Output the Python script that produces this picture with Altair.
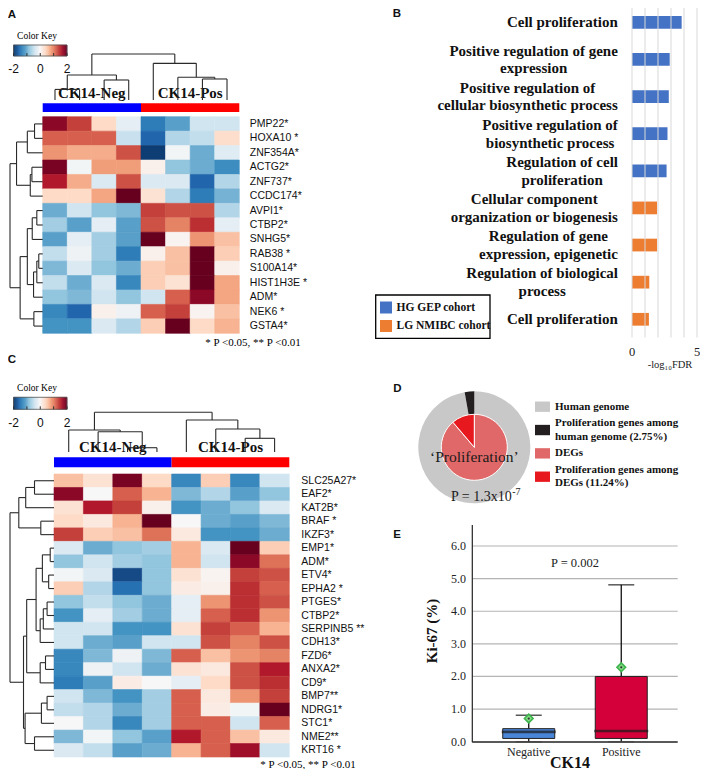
import altair as alt
import numpy as np
import pandas as pd

# ------------------------------------------------------------------ data
rdbu = ["#053061", "#2166ac", "#4393c3", "#92c5de", "#d1e5f0", "#f7f7f7",
        "#fddbc7", "#f4a582", "#d6604d", "#b2182b", "#67001f"]
key_ticks = [-2, -1, 0, 1, 2]
key_labels = [-2, 0, 2]
group_names = ["CK14-Neg", "CK14-Pos"]
group_colors = ["#0000ff", "#ff0000"]

a_genes = ["PMP22*", "HOXA10 *", "ZNF354A*", "ACTG2*", "ZNF737*", "CCDC174*",
           "AVPI1*", "CTBP2*", "SNHG5*", "RAB38 *", "S100A14*", "HIST1H3E *",
           "ADM*", "NEK6 *", "GSTA4*"]
a_values = [
    [1.8, 1.4, 0.4, -0.2, -1.4, -1.1, -0.4, -0.4],
    [1.2, 1.2, 1.2, -0.45, -1.6, -0.6, -0.5, 0.35],
    [0.9, 0.75, 0.75, 1.3, -1.9, -0.05, -1.0, -0.25],
    [1.9, -0.05, 0.85, 0.85, 0.1, -0.8, -1.0, -1.25],
    [1.6, 0.75, -0.3, 1.3, -0.3, -0.3, -1.6, -0.6],
    [0.4, 0.4, 0.8, 2.0, 0.3, -0.6, -1.4, -0.95],
    [-1.0, -0.4, -0.8, -0.9, 1.4, 1.3, 1.3, -0.6],
    [-0.7, -1.1, -0.2, -1.1, 1.3, 1.0, 1.5, -0.2],
    [-1.1, -0.2, -0.7, -1.1, 2.0, 0.05, 0.9, 0.6],
    [-0.5, -0.1, -0.7, -1.4, 0.1, 0.6, 2.1, 0.5],
    [-0.9, -0.3, -0.8, -1.0, 0.5, 0.6, 2.1, 0.1],
    [-0.5, -1.0, -0.3, -1.3, 0.5, 0.3, 2.0, 0.8],
    [-0.8, -0.9, -0.4, -0.8, -0.4, 1.2, 1.8, 0.8],
    [-1.3, -1.6, 0.1, -0.1, 1.2, 1.4, 0.05, 0.6],
    [-1.2, -1.2, -0.3, -0.6, 0.5, 2.1, 0.4, 0.7],
]
# dendrogram merges: (child a, child b, height); node ids >= n refer to earlier merges
a_col_merges = [(0, 1, 2.3), (2, 3, 4.35), (8, 9, 5.43), (6, 7, 4.57),
                (5, 11, 4.93), (4, 12, 7.97), (10, 13, 10.0)]
a_row_merges = [(0, 1, 2.5), (15, 2, 4.7), (3, 4, 3.3), (17, 5, 3.8), (16, 18, 8.0),
                (6, 7, 1.8), (20, 8, 3.2), (9, 10, 1.2), (22, 11, 1.8), (23, 12, 2.8),
                (21, 24, 4.7), (13, 14, 2.7), (25, 26, 6.9), (19, 27, 10.0)]

c_genes = ["SLC25A27*", "EAF2*", "KAT2B*", "BRAF *", "IKZF3*", "EMP1*", "ADM*", "ETV4*",
           "EPHA2 *", "PTGES*", "CTBP2*", "SERPINB5 **", "CDH13*", "FZD6*", "ANXA2*", "CD9*",
           "BMP7**", "NDRG1*", "STC1*", "NME2**", "KRT16 *"]
c_values = [
    [0.6, 0.3, 1.9, 0.4, -1.3, 0.5, -1.3, -0.4],
    [1.8, 0.0, 1.2, 0.7, -0.9, -0.6, -1.1, -0.8],
    [0.3, 1.6, 1.4, 0.1, -1.2, -1.0, -0.8, -0.3],
    [0.4, 0.2, 0.7, 2.0, 0.0, -1.0, -1.1, -0.9],
    [1.4, 0.5, 0.6, 1.1, 0.2, -1.2, -1.2, -1.0],
    [-0.3, -1.0, -0.8, -0.7, 0.7, -0.3, 2.1, 0.5],
    [-0.8, -0.4, -0.7, -0.8, 0.7, -0.4, 1.8, 1.1],
    [-0.05, -0.3, -1.8, -0.8, 0.3, 0.05, 1.4, 1.3],
    [0.5, -0.6, -1.5, -0.8, 0.15, 0.1, 1.5, 1.2],
    [-0.8, -0.5, -0.8, -1.0, -0.2, 0.9, 1.5, 1.3],
    [-1.2, -0.2, -0.7, -1.0, -0.2, 1.2, 1.5, 0.9],
    [-0.4, -0.4, -1.2, -1.2, 0.3, 1.4, 1.2, 0.7],
    [-0.4, -1.0, -1.1, -0.4, -0.4, 1.3, 1.0, 1.3],
    [-1.3, -0.9, -0.1, -0.9, 1.2, 0.6, 0.9, 1.0],
    [-1.3, -0.1, -0.4, -1.0, 0.3, 0.2, 1.3, 1.6],
    [-1.4, -1.1, 0.15, 0.0, -0.2, 0.4, 1.3, 1.5],
    [-0.4, -0.9, -1.2, -0.7, 1.2, 0.2, 0.9, 1.4],
    [-0.5, -0.6, -1.0, -0.7, 1.2, 0.15, -0.05, 2.2],
    [0.0, -0.6, -1.3, -0.7, 1.2, 1.2, -0.4, 1.2],
    [-0.9, -0.05, -0.8, -1.1, 1.6, 1.2, 0.6, 0.2],
    [-0.3, -0.5, -1.1, -1.0, 0.7, 1.2, 1.7, -0.4],
]
c_col_merges = [(2, 3, 1.08), (1, 8, 5.1), (0, 9, 5.54), (6, 7, 3.45),
                (5, 11, 5.8), (4, 12, 8.06), (10, 13, 10.0)]
c_row_merges = [(0, 1, 4.43), (21, 2, 6.43), (3, 4, 3.0), (22, 23, 8.0),
                (5, 6, 0.86), (7, 8, 1.21), (25, 26, 2.64), (9, 10, 1.57),
                (28, 11, 2.43), (29, 12, 3.14), (27, 30, 4.07), (13, 14, 1.93),
                (32, 15, 3.14), (31, 33, 6.21), (16, 17, 1.57), (35, 18, 2.86),
                (19, 20, 4.43), (36, 37, 6.57), (34, 38, 6.93), (24, 39, 10.0)]
footnote = "* P <0.05, ** P <0.01"

b_terms = ["Cell proliferation",
           "Positive regulation of gene\nexpression",
           "Positive regulation of\ncellular biosynthetic process",
           "Positive regulation of\nbiosynthetic process",
           "Regulation of cell\nproliferation",
           "Cellular component\norganization or biogenesis",
           "Regulation of gene\nexpression, epigenetic",
           "Regulation of biological\nprocess",
           "Cell proliferation"]
b_values = [3.82, 2.9, 2.83, 2.73, 2.66, 1.93, 1.93, 1.33, 1.3]
b_cohort = ["HG GEP cohort"] * 5 + ["LG NMIBC cohort"] * 4
b_cohorts = ["HG GEP cohort", "LG NMIBC cohort"]
b_colors = ["#4472c4", "#ed7d31"]
b_ticks = [0, 5]
b_grid = [0, 1, 2, 3, 4, 5]

d_outer_names = ["Human genome", "Proliferation genes among human genome (2.75%)"]
d_outer_values = [97.25, 2.75]
d_inner_names = ["DEGs", "Proliferation genes among DEGs (11.24%)"]
d_inner_values = [88.76, 11.24]
d_legend = ["Human genome", "Proliferation genes among\nhuman genome (2.75%)",
            "DEGs", "Proliferation genes among\nDEGs (11.24%)"]
d_colors = ["#c8c8c8", "#231f20", "#e06868", "#e8191e"]

e_groups = ["Negative", "Positive"]
e_q1 = [0.1, 0.1]
e_median = [0.3, 0.33]
e_q3 = [0.4, 2.0]
e_low = [0.0, 0.0]
e_high = [0.81, 4.81]
e_mean = [0.71, 2.28]
e_colors = ["#4a86d8", "#d4003a"]
e_ticks = [0, 1, 2, 3, 4, 5, 6]

# ------------------------------------------------------------------ helpers
OFF = 8  # page margin: reference pixel -> chart pixel
W, H = 692, 761


def px(v):
    return v - OFF


SERIF = "Liberation Serif"
SANS = "Liberation Sans"
INK = "#2a2a2a"


def lin(domain, rng):
    return alt.Scale(domain=list(domain), range=[px(r) for r in rng], zero=False, nice=False)


def heat_scale():
    return alt.Scale(domain=[float(v) for v in np.linspace(-2, 2, len(rdbu))], range=rdbu, clamp=True)


def text_at(text, x, y, size, font=SERIF, weight="normal", align="center",
            baseline="middle", color="black", angle=0):
    return alt.Chart(pd.DataFrame({"t": [text]})).mark_text(
        font=font, fontSize=size, fontWeight=weight, align=align, baseline=baseline,
        color=color, angle=angle
    ).encode(x=alt.value(px(x)), y=alt.value(px(y)), text="t:N")


def dendro_segments(merges, n):
    pos = {i: i + 0.5 for i in range(n)}
    hgt = {i: 0.0 for i in range(n)}
    rows = []
    for k, (a, b, h) in enumerate(merges):
        rows.append(dict(p1=pos[a], p2=pos[a], h1=hgt[a], h2=h))
        rows.append(dict(p1=pos[b], p2=pos[b], h1=hgt[b], h2=h))
        rows.append(dict(p1=pos[a], p2=pos[b], h1=h, h2=h))
        pos[n + k] = (pos[a] + pos[b]) / 2
        hgt[n + k] = h
    return pd.DataFrame(rows)


TIMES_BOLD = {" ": 250, ",": 250, "C": 722, "P": 611, "R": 722,
              "a": 500, "b": 556, "c": 444, "d": 556, "e": 444, "f": 333, "g": 500,
              "h": 556, "i": 278, "j": 333, "k": 556, "l": 278, "m": 833, "n": 556,
              "o": 500, "p": 556, "q": 556, "r": 444, "s": 389, "t": 333, "u": 556,
              "v": 500, "w": 722, "x": 500, "y": 500, "z": 444}


def tb_width(s, size):
    return sum(TIMES_BOLD.get(ch, 500) for ch in s) * size / 1000.0


def heatmap_panel(genes, values, col_merges, row_merges, g):
    n_rows, n_cols = len(genes), len(values[0])
    colx = lin([0, n_cols], [g["x0"], g["x1"]])
    rowy = lin([0, n_rows], [g["y0"], g["y1"]])
    cdy = lin([0, 10], [g["cd_leaf"], g["cd_root"]])
    rdx = lin([0, 10], [g["x0"], g["rd_root"]])
    keyx = lin([-2, 2], [g["kx0"], g["kx1"]])

    cells = pd.DataFrame([dict(c0=c, c1=c + 1, r0=r, r1=r + 1, v=v)
                          for r, vals in enumerate(values) for c, v in enumerate(vals)])
    out = []
    out.append(alt.Chart(cells).mark_rect(strokeWidth=0.6).encode(
        x=alt.X("c0:Q", scale=colx, axis=None), x2="c1:Q",
        y=alt.Y("r0:Q", scale=rowy, axis=None), y2="r1:Q",
        color=alt.Color("v:Q", scale=heat_scale(), legend=None),
        stroke=alt.Stroke("v:Q", scale=heat_scale(), legend=None)))

    labs = pd.DataFrame({"gene": genes, "rc": [i + 0.5 for i in range(n_rows)],
                         "xe": [n_cols] * n_rows})
    out.append(alt.Chart(labs).mark_text(
        font=SANS, fontSize=10.5, align="left", baseline="middle", dx=g["lab_dx"], color="#111"
    ).encode(x=alt.X("xe:Q", scale=colx, axis=None),
             y=alt.Y("rc:Q", scale=rowy, axis=None), text="gene:N"))

    gb = pd.DataFrame({"grp": group_names, "s": [0, n_cols / 2], "e": [n_cols / 2, n_cols],
                       "m": [n_cols / 4, 3 * n_cols / 4]})
    out.append(alt.Chart(gb).mark_rect().encode(
        x=alt.X("s:Q", scale=colx, axis=None), x2="e:Q",
        y=alt.value(px(g["bar_y0"])), y2=alt.value(px(g["bar_y1"])),
        color=alt.Color("grp:N", scale=alt.Scale(domain=group_names, range=group_colors), legend=None)))
    out.append(alt.Chart(gb).mark_text(
        font=SERIF, fontSize=15, fontWeight="bold", baseline="middle", color="#111"
    ).encode(x=alt.X("m:Q", scale=colx, axis=None), y=alt.value(px(g["grp_y"])), text="grp:N"))

    cseg = dendro_segments(col_merges, n_cols)
    out.append(alt.Chart(cseg).mark_rule(color=INK, strokeWidth=1.1).encode(
        x=alt.X("p1:Q", scale=colx, axis=None), x2="p2:Q",
        y=alt.Y("h1:Q", scale=cdy, axis=None), y2="h2:Q"))
    rseg = dendro_segments(row_merges, n_rows)
    out.append(alt.Chart(rseg).mark_rule(color=INK, strokeWidth=1.1).encode(
        x=alt.X("h1:Q", scale=rdx, axis=None), x2="h2:Q",
        y=alt.Y("p1:Q", scale=rowy, axis=None), y2="p2:Q"))

    # colour key
    steps = np.linspace(-2, 2, 61)
    kd = pd.DataFrame({"k0": steps[:-1], "k1": steps[1:], "km": (steps[:-1] + steps[1:]) / 2})
    out.append(alt.Chart(kd).mark_rect(strokeWidth=0.5).encode(
        x=alt.X("k0:Q", scale=keyx, axis=None), x2="k1:Q",
        y=alt.value(px(g["ky0"])), y2=alt.value(px(g["ky1"])),
        color=alt.Color("km:Q", scale=heat_scale(), legend=None),
        stroke=alt.Stroke("km:Q", scale=heat_scale(), legend=None)))
    kb = pd.DataFrame({"a": [-2], "b": [2]})
    out.append(alt.Chart(kb).mark_rect(fillOpacity=0, stroke="#555", strokeWidth=0.8).encode(
        x=alt.X("a:Q", scale=keyx, axis=None), x2="b:Q",
        y=alt.value(px(g["ky0"])), y2=alt.value(px(g["ky1"]))))
    kt = pd.DataFrame({"t": key_ticks})
    out.append(alt.Chart(kt).mark_rule(color="#333", strokeWidth=1).encode(
        x=alt.X("t:Q", scale=keyx, axis=None),
        y=alt.value(px(g["ky1"] - 3)), y2=alt.value(px(g["ky1"]))))
    kl = pd.DataFrame({"t": key_labels, "s": [str(v) for v in key_labels]})
    out.append(alt.Chart(kl).mark_text(font=SANS, fontSize=12, baseline="middle", color="#111").encode(
        x=alt.X("t:Q", scale=keyx, axis=None), y=alt.value(px(g["ky_lab"])), text="s:N"))
    out.append(text_at("Color Key", g["kt_x"], g["kt_y"], 9.5))
    out.append(text_at(footnote, g["foot_x"], g["foot_y"], 11))
    return out


layers = []

# ------------------------------------------------------------------ panel A
layers += heatmap_panel(a_genes, a_values, a_col_merges, a_row_merges, dict(
    x0=42.7, x1=239.3, y0=116.7, y1=333.3, cd_leaf=100, cd_root=54, rd_root=10,
    kx0=13.5, kx1=67, ky0=45, ky1=56, ky_lab=68.5, kt_x=37, kt_y=35.5,
    bar_y0=103.3, bar_y1=112, grp_y=93.3, lab_dx=10.5, foot_x=253, foot_y=343.3))

# ------------------------------------------------------------------ panel C
layers += heatmap_panel(c_genes, c_values, c_col_merges, c_row_merges, dict(
    x0=54, x1=289.3, y0=474, y1=757, cd_leaf=452, cd_root=412.3, rd_root=10,
    kx0=13.5, kx1=67, ky0=397.3, ky1=409.3, ky_lab=423.3, kt_x=37, kt_y=388,
    bar_y0=457.3, bar_y1=467.3, grp_y=446.7, lab_dx=12, foot_x=308, foot_y=765))

# ------------------------------------------------------------------ panel B
B_X0, B_X5 = 632.0, 697.0
B_PPU = (B_X5 - B_X0) / 5.0
B_GAP = 14.0
B_LH = 17.7
bx = lin([0, 5], [B_X0, B_X5])
keys = [str(i) for i in range(len(b_terms))]
by = alt.Scale(type="band", domain=keys, range=[px(3.75), px(337.85)],
               paddingInner=0.657, paddingOuter=0.3285)
bdf = pd.DataFrame({"key": keys, "term": b_terms, "v": b_values, "cohort": b_cohort,
                    "zero": [0] * len(keys),
                    "nl": [t.count("\n") + 1 for t in b_terms],
                    "lx": [-(B_GAP + max(tb_width(l, 15) for l in t.split("\n")) / 2) / B_PPU
                           for t in b_terms]})
layers.append(alt.Chart(bdf).mark_bar().encode(
    x=alt.X("zero:Q", scale=bx, axis=None), x2="v:Q",
    y=alt.Y("key:O", scale=by, axis=None),
    color=alt.Color("cohort:N", scale=alt.Scale(domain=b_cohorts, range=b_colors), legend=None)))
layers.append(alt.Chart(pd.DataFrame({"g": b_grid})).mark_rule(color="#d9d9d9", strokeWidth=1).encode(
    x=alt.X("g:Q", scale=bx, axis=None), y=alt.value(0), y2=alt.value(px(337.5))))
for nl in (1, 2):
    layers.append(alt.Chart(bdf[bdf["nl"] == nl]).mark_text(
        font=SERIF, fontSize=15, fontWeight="bold", align="center", baseline="middle",
        lineBreak="\n", lineHeight=B_LH, color="#111", dy=-(nl - 1) * B_LH / 2
    ).encode(x=alt.X("lx:Q", scale=bx, axis=None), y=alt.Y("key:O", scale=by, axis=None),
             text="term:N"))
layers.append(alt.Chart(pd.DataFrame({"t": b_ticks, "s": [str(t) for t in b_ticks]})).mark_text(
    font=SERIF, fontSize=12.5, baseline="middle", color="#222"
).encode(x=alt.X("t:Q", scale=bx, axis=None), y=alt.value(px(351.7)), text="s:N"))
layers.append(text_at("-log\u2081\u2080FDR", 670, 365, 10.5, color="#222"))
# legend B
layers.append(alt.Chart(pd.DataFrame({"a": [0]})).mark_rect(
    fill="white", stroke="black", strokeWidth=1.3
).encode(x=alt.value(px(375.7)), x2=alt.value(px(490)), y=alt.value(px(295)), y2=alt.value(px(338.3))))
bly = alt.Scale(type="point", domain=b_cohorts, range=[px(307.5), px(326)], padding=0)
bleg = pd.DataFrame({"c": b_cohorts})
layers.append(alt.Chart(bleg).mark_point(shape="square", filled=True, size=144, opacity=1).encode(
    x=alt.value(px(386)), y=alt.Y("c:N", scale=bly, axis=None),
    color=alt.Color("c:N", scale=alt.Scale(domain=b_cohorts, range=b_colors), legend=None)))
layers.append(alt.Chart(bleg).mark_text(
    font=SERIF, fontSize=11.5, fontWeight="bold", align="left", baseline="middle", color="#111"
).encode(x=alt.value(px(396.5)), y=alt.Y("c:N", scale=bly, axis=None), text="c:N"))

# ------------------------------------------------------------------ panel D
D_CX, D_CY = 474.3, 447.3
dout = pd.DataFrame({"n": d_outer_names, "v": d_outer_values, "o": [0, 1]})
din = pd.DataFrame({"n": d_inner_names, "v": d_inner_values, "o": [0, 1]})
all_names = d_outer_names + d_inner_names
layers.append(alt.Chart(dout).mark_arc(outerRadius=56, innerRadius=32).encode(
    x=alt.value(px(D_CX)), y=alt.value(px(D_CY)),
    theta=alt.Theta("v:Q", stack=True), order=alt.Order("o:Q"),
    color=alt.Color("n:N", scale=alt.Scale(domain=all_names, range=d_colors), legend=None)))
layers.append(alt.Chart(din).mark_arc(outerRadius=33, stroke="white", strokeWidth=1).encode(
    x=alt.value(px(D_CX)), y=alt.value(px(D_CY)),
    theta=alt.Theta("v:Q", stack=True), order=alt.Order("o:Q"),
    color=alt.Color("n:N", scale=alt.Scale(domain=all_names, range=d_colors), legend=None)))
layers.append(text_at("\u2018Proliferation\u2019", D_CX, 457.3, 15.5, color="#1a1a1a"))
layers.append(text_at("P = 1.3x10", 511.7, 496.5, 14, align="right", color="#1a1a1a"))
layers.append(text_at("-7", 512.2, 491.5, 10, align="left", color="#1a1a1a"))
D_LH = 13.4
dly = alt.Scale(type="point", domain=d_legend, range=[px(406.7), px(476.7)], padding=0)
dleg = pd.DataFrame({"c": d_legend, "nl": [t.count("\n") + 1 for t in d_legend]})
layers.append(alt.Chart(dleg).mark_point(
    shape="M-1,-0.69L1,-0.69L1,0.69L-1,0.69Z", filled=True, size=225, opacity=1
).encode(x=alt.value(px(542.5)), y=alt.Y("c:N", scale=dly, axis=None),
         color=alt.Color("c:N", scale=alt.Scale(domain=d_legend, range=d_colors), legend=None)))
for nl in (1, 2):
    layers.append(alt.Chart(dleg[dleg["nl"] == nl]).mark_text(
        font=SERIF, fontSize=11, fontWeight="bold", align="left", baseline="middle",
        lineBreak="\n", lineHeight=D_LH, color="#111", dy=-(nl - 1) * D_LH / 2
    ).encode(x=alt.value(px(555)), y=alt.Y("c:N", scale=dly, axis=None), text="c:N"))

# ------------------------------------------------------------------ panel E
E_X0, E_X1 = 472.3, 677.7
ey = lin([0, 6], [741.7, 546.0])
ex = alt.Scale(type="band", domain=e_groups, range=[px(E_X0), px(E_X1)],
               paddingInner=0, paddingOuter=0.11)
edf = pd.DataFrame({"g": e_groups, "q1": e_q1, "med": e_median, "q3": e_q3,
                    "lo": e_low, "hi": e_high, "mean": e_mean})
layers.append(alt.Chart(pd.DataFrame({"t": e_ticks[1:]})).mark_rule(color="#b4b4b4", strokeWidth=1.2).encode(
    y=alt.Y("t:Q", scale=ey, axis=None), x=alt.value(px(E_X0)), x2=alt.value(px(E_X1))))
layers.append(alt.Chart(pd.DataFrame({"t": e_ticks, "s": [f"{t:.1f}" for t in e_ticks]})).mark_text(
    font=SERIF, fontSize=12, align="right", baseline="middle", color="#222"
).encode(y=alt.Y("t:Q", scale=ey, axis=None), x=alt.value(px(466)), text="s:N"))
layers.append(alt.Chart(edf).mark_rule(color="#111", strokeWidth=1.3).encode(
    x=alt.X("g:N", scale=ex, axis=None), y=alt.Y("q3:Q", scale=ey, axis=None), y2="hi:Q"))
layers.append(alt.Chart(edf).mark_rule(color="#111", strokeWidth=1.3).encode(
    x=alt.X("g:N", scale=ex, axis=None), y=alt.Y("lo:Q", scale=ey, axis=None), y2="q1:Q"))
layers.append(alt.Chart(edf).mark_bar(width=52, stroke="#222", strokeWidth=1).encode(
    x=alt.X("g:N", scale=ex, axis=None), y=alt.Y("q1:Q", scale=ey, axis=None), y2="q3:Q",
    color=alt.Color("g:N", scale=alt.Scale(domain=e_groups, range=e_colors), legend=None)))
layers.append(alt.Chart(edf).mark_tick(color="#1a1a1a", size=54, thickness=2.6).encode(
    x=alt.X("g:N", scale=ex, axis=None), y=alt.Y("med:Q", scale=ey, axis=None)))
layers.append(alt.Chart(edf).mark_tick(color="#111", size=26, thickness=1.5).encode(
    x=alt.X("g:N", scale=ex, axis=None), y=alt.Y("hi:Q", scale=ey, axis=None)))
layers.append(alt.Chart(edf).mark_tick(color="#999", size=26, thickness=1.5).encode(
    x=alt.X("g:N", scale=ex, axis=None), y=alt.Y("lo:Q", scale=ey, axis=None)))
layers.append(alt.Chart(pd.DataFrame({"a": [0]})).mark_rule(color="#222", strokeWidth=1.2).encode(
    x=alt.value(px(E_X0)), y=alt.value(px(525)), y2=alt.value(px(742.3))))
layers.append(alt.Chart(pd.DataFrame({"a": [0]})).mark_rule(color="#222", strokeWidth=1.4).encode(
    x=alt.value(px(E_X0)), x2=alt.value(px(E_X1)), y=alt.value(px(742))))
layers.append(alt.Chart(edf).mark_point(
    shape="diamond", filled=True, size=75, color="#86dc86", stroke="#3cb44b", strokeWidth=1.6, opacity=1
).encode(x=alt.X("g:N", scale=ex, axis=None), y=alt.Y("mean:Q", scale=ey, axis=None)))
layers.append(alt.Chart(edf).mark_point(shape="circle", filled=True, size=5, color="#333", opacity=1).encode(
    x=alt.X("g:N", scale=ex, axis=None), y=alt.Y("mean:Q", scale=ey, axis=None)))
layers.append(alt.Chart(edf).mark_text(font=SERIF, fontSize=12, baseline="middle", color="#222").encode(
    x=alt.X("g:N", scale=ex, axis=None), y=alt.value(px(751.7)), text="g:N"))
layers.append(text_at("P = 0.002", 575, 563.3, 12.5, color="#222"))
layers.append(text_at("CK14", 570, 762.5, 16, weight="bold", color="#111"))
layers.append(text_at("Ki-67 (%)", 431.7, 631, 15, weight="bold", color="#111", angle=270))

# ------------------------------------------------------------------ panel letters
for letter, lx, ly in [("A", 12, 17.5), ("B", 397, 17), ("C", 12, 363), ("D", 397.5, 391.5), ("E", 397, 537.5)]:
    layers.append(text_at(letter, lx, ly, 11.5, font=SANS, weight="bold", color="#111",
                          baseline="alphabetic"))

chart = alt.layer(*layers).resolve_scale(
    x="independent", y="independent", color="independent", stroke="independent",
    theta="independent"
).properties(
    width=W, height=H, padding=0, autosize=alt.AutoSizeParams(type="none")
).configure_view(stroke=None)

chart.save("out.html", embed_options={"renderer": "svg", "actions": False})
